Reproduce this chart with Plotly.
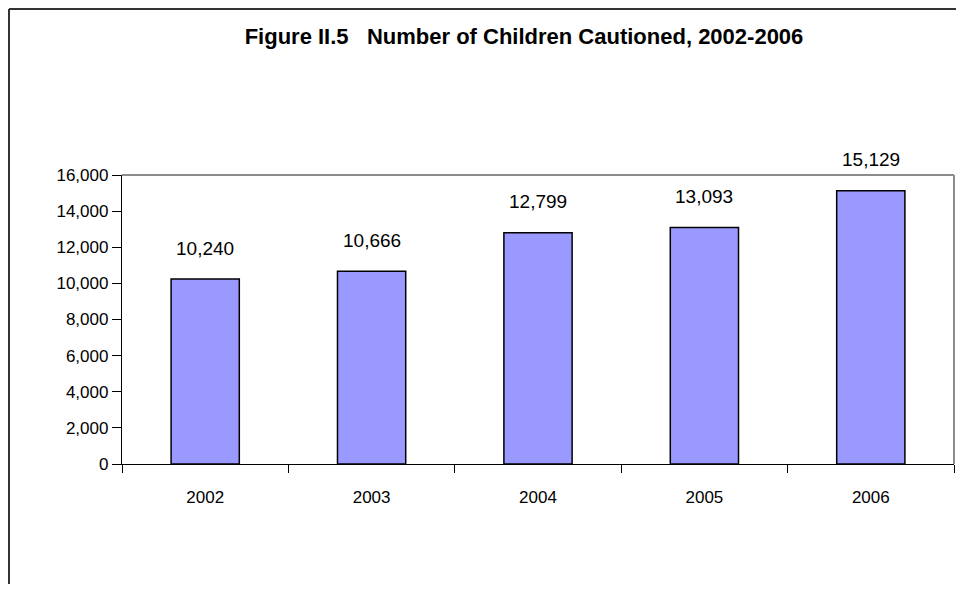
import plotly.graph_objects as go

years = ["2002", "2003", "2004", "2005", "2006"]
cautioned = [10240, 10666, 12799, 13093, 15129]
value_labels = ["10,240", "10,666", "12,799", "13,093", "15,129"]
y_ticks = [0, 2000, 4000, 6000, 8000, 10000, 12000, 14000, 16000]
y_tick_text = ["0", "2,000", "4,000", "6,000", "8,000", "10,000", "12,000", "14,000", "16,000"]
title_text = "Figure II.5   Number of Children Cautioned, 2002-2006"

FONT = "Liberation Sans, Arial, sans-serif"

fig = go.Figure()
fig.add_trace(go.Bar(
    x=years, y=cautioned,
    marker=dict(color="#9999FF", line=dict(color="#000000", width=1.5)),
    hoverinfo="x+y",
))

for i, (v, lab) in enumerate(zip(cautioned, value_labels)):
    fig.add_annotation(x=i, y=v, text=lab, showarrow=False, yshift=31,
                       yanchor="middle", font=dict(family=FONT, size=19, color="#000"))

# page body has an 8px margin, so the figure is offset by 8px
OFF = 8
W, H = 964 - 2 * OFF, 592 - 2 * OFF
L, T = 122 - OFF, 175 - OFF
R = W - (954 - OFF)
B = H - (464 - OFF)
pw, ph = W - L - R, H - T - B

def px(x):
    return (x - OFF - L) / pw

def py(y):
    return (H - B - (y - OFF)) / ph

shapes = [
    # plot area top & right border (gray)
    dict(type="line", xref="paper", yref="paper", x0=0, x1=1, y0=1, y1=1,
         line=dict(color="#8C8C8C", width=2)),
    dict(type="line", xref="paper", yref="paper", x0=1, x1=1, y0=0, y1=1,
         line=dict(color="#8C8C8C", width=2)),
    # outer chart frame
    dict(type="line", xref="paper", yref="paper", x0=px(9), x1=px(980), y0=py(9), y1=py(9),
         line=dict(color="#333333", width=2)),
    dict(type="line", xref="paper", yref="paper", x0=px(9), x1=px(9), y0=py(9), y1=py(620),
         line=dict(color="#333333", width=2)),
]

fig.update_layout(
    width=W, height=H,
    margin=dict(l=L, r=R, t=T, b=B, autoexpand=False),
    paper_bgcolor="white", plot_bgcolor="white",
    showlegend=False,
    bargap=0.59,
    font=dict(family=FONT, size=17, color="#000"),
    title=dict(text="<b>" + title_text + "</b>", x=(524 - OFF) / W, xanchor="center",
               y=1 - (36 - OFF) / H, yanchor="middle", xref="container", yref="container",
               font=dict(family=FONT, size=22, color="#000")),
    shapes=shapes,
)
fig.update_xaxes(
    type="category", automargin=False, range=[-0.5, len(years) - 0.5],
    showline=True, linecolor="#000", linewidth=1.3,
    ticks="outside", tickson="boundaries", ticklen=8, tickcolor="#000", tickwidth=1,
    tickfont=dict(family=FONT, size=17, color="#000"), tickangle=0,
    showgrid=False, zeroline=False, ticklabelstandoff=17,
)
fig.update_yaxes(
    range=[0, 16000], tickvals=y_ticks, ticktext=y_tick_text, automargin=False,
    showline=True, linecolor="#000", linewidth=1.3,
    ticks="outside", ticklen=9, tickcolor="#000", tickwidth=1,
    tickfont=dict(family=FONT, size=17, color="#000"),
    showgrid=False, zeroline=False,
)

fig.write_html("out.html")
